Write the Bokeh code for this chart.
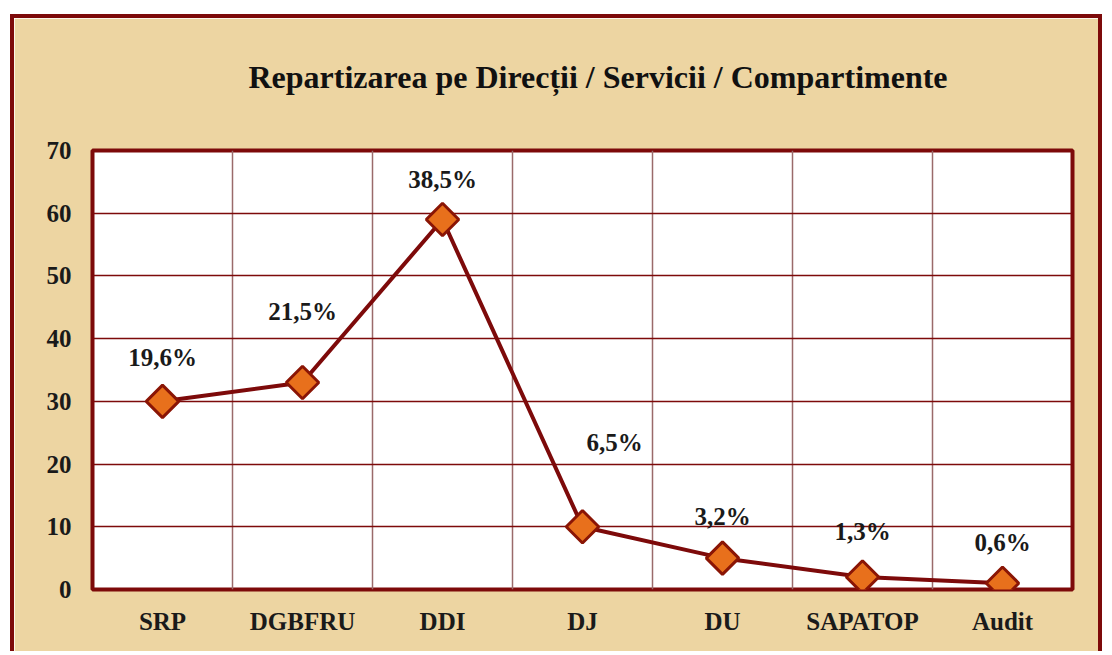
import numpy as np
from bokeh.plotting import figure
from bokeh.models import ColumnDataSource, FixedTicker, Range1d
from bokeh.core.properties import value
from bokeh.embed import file_html
from bokeh.resources import INLINE

# ---- data ----
categories = ["SRP", "DGBFRU", "DDI", "DJ", "DU", "SAPATOP", "Audit"]
values = [30, 33, 59, 10, 5, 2, 1]
pct_labels = ["19,6%", "21,5%", "38,5%", "6,5%", "3,2%", "1,3%", "0,6%"]
y_ticks = [0, 10, 20, 30, 40, 50, 60, 70]
title_text = "Repartizarea pe Direcții / Servicii / Compartimente"

# ---- label placement (layout, pixels above each point) ----
label_dx = [0, 0, 0, 32, 0, 0, 0]
label_dy = [44, 71, 40, 84, 42, 45, 41]

DARK = "#7d0a0a"
BG = "#edd5a2"
SERIF = "Liberation Serif"

xs = list(range(len(categories)))
src = ColumnDataSource(dict(x=xs, y=values, lab=pct_labels, dx=label_dx,
                            dy=[-d for d in label_dy]))

p = figure(width=1092, height=637, output_backend="svg", toolbar_location=None,
           x_range=Range1d(-0.5, len(categories) - 0.5),
           y_range=Range1d(y_ticks[0], y_ticks[-1]),
           min_border_left=78, min_border_right=34, min_border_top=132,
           min_border_bottom=66)
p.styles = {"margin-left": "10px", "margin-top": "14px",
            "border-left": f"4px solid {DARK}", "border-top": f"4px solid {DARK}",
            "border-right": f"4px solid {DARK}"}

p.background_fill_color = "white"
p.border_fill_color = BG
p.outline_line_color = DARK
p.outline_line_width = 4

# title (trailing empty line lifts it higher above the frame)
p.title.text = title_text + "\n"
p.title.text_font = SERIF
p.title.text_font_style = "bold"
p.title.text_font_size = "32px"
p.title.text_color = "#111111"
p.title.align = "left"
p.title.offset = 156
p.title.standoff = 40

# axes
p.yaxis.ticker = FixedTicker(ticks=y_ticks)
p.xaxis.ticker = FixedTicker(ticks=xs)
p.xaxis.major_label_overrides = {i: c for i, c in enumerate(categories)}
for ax in (p.xaxis[0], p.yaxis[0]):
    ax.axis_line_color = None
    ax.major_tick_line_color = None
    ax.minor_tick_line_color = None
    ax.major_label_text_font = SERIF
    ax.major_label_text_font_style = "bold"
    ax.major_label_text_font_size = "25px"
    ax.major_label_text_color = "#1a1a1a"
p.yaxis.major_label_standoff = 15
p.xaxis.major_label_standoff = 12

# grid
p.ygrid.ticker = FixedTicker(ticks=y_ticks)
p.ygrid.grid_line_color = DARK
p.ygrid.grid_line_width = 1.5
p.xgrid.ticker = FixedTicker(ticks=[i + 0.5 for i in xs[:-1]])
p.xgrid.grid_line_color = "#9a6a6a"
p.xgrid.grid_line_width = 1.5

# line + markers
p.line("x", "y", source=src, line_color=DARK, line_width=4)
p.scatter("x", "y", source=src, marker="square", angle=np.pi / 4, size=23,
          fill_color="#e8701c", line_color="#8a1505", line_width=3)

# percentage labels
p.text("x", "y", text="lab", source=src, x_offset="dx", y_offset="dy",
       text_font=value(SERIF), text_font_style="bold", text_font_size="25px",
       text_color="#1a1a1a", text_align="center", text_baseline="middle")

open("out.html", "w").write(file_html(p, INLINE))
